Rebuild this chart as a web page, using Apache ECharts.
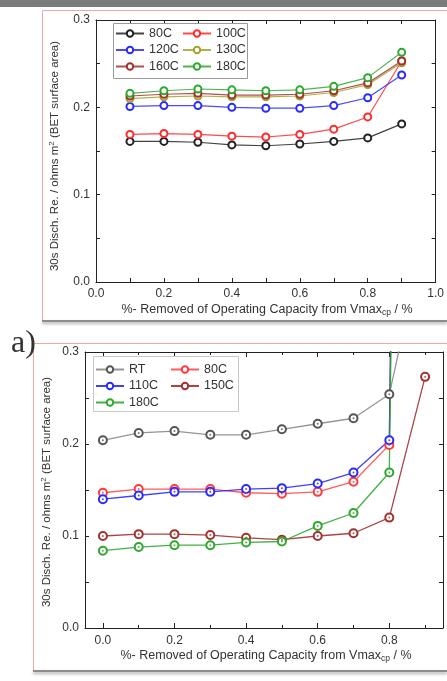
<!DOCTYPE html>
<html>
<head>
<meta charset="utf-8">
<script src="https://cdn.jsdelivr.net/npm/echarts@6/dist/echarts.min.js"></script>
<style>html,body{margin:0;padding:0;background:#fff;}#c{width:447px;height:681px;}</style>
</head>
<body>
<div id="c"></div>
<script>
// ---------- Panel a data ----------
const xA = [0.1, 0.2, 0.3, 0.4, 0.5, 0.6, 0.7, 0.8, 0.9];
const a80  = [0.161, 0.161, 0.160, 0.157, 0.156, 0.158, 0.161, 0.165, 0.181];
const a100 = [0.169, 0.170, 0.169, 0.167, 0.166, 0.169, 0.175, 0.189, 0.253];
const a120 = [0.201, 0.202, 0.202, 0.200, 0.199, 0.199, 0.202, 0.211, 0.237];
const a130 = [0.210, 0.212, 0.213, 0.212, 0.212, 0.213, 0.217, 0.226, 0.251];
const a160 = [0.213, 0.215, 0.216, 0.214, 0.214, 0.215, 0.219, 0.228, 0.253];
const a180 = [0.216, 0.219, 0.221, 0.220, 0.219, 0.220, 0.224, 0.234, 0.263];
const namesA = ['80C', '100C', '120C', '130C', '160C', '180C'];

// ---------- Panel b data ----------
const xB = [0.0, 0.1, 0.2, 0.3, 0.4, 0.5, 0.6, 0.7, 0.8, 0.9];
const bRT  = [0.204, 0.212, 0.214, 0.210, 0.210, 0.216, 0.222, 0.228, 0.254, 0.43];
const b80  = [0.147, 0.151, 0.151, 0.151, 0.147, 0.146, 0.148, 0.159, 0.199, 3.0];
const b110 = [0.140, 0.144, 0.148, 0.148, 0.151, 0.152, 0.157, 0.169, 0.204, 3.2];
const b150 = [0.100, 0.102, 0.102, 0.101, 0.098, 0.096, 0.100, 0.103, 0.120, 0.273];
const b180 = [0.084, 0.088, 0.090, 0.090, 0.093, 0.094, 0.111, 0.125, 0.169, 3.1];
const namesB = ['RT', '80C', '110C', '150C', '180C'];

// ---------- ticks ----------
const yTicks = [0.0, 0.05, 0.1, 0.15, 0.2, 0.25, 0.3];
const yLabels = [0.0, 0.1, 0.2, 0.3];
const xTicksA = [0.0, 0.1, 0.2, 0.3, 0.4, 0.5, 0.6, 0.7, 0.8, 0.9, 1.0];
const xLabelsA = [0.0, 0.2, 0.4, 0.6, 0.8, 1.0];
const xTicksB = [0.0, 0.2, 0.4, 0.6, 0.8];
const xMinorB = [0.1, 0.3, 0.5, 0.7, 0.9];

const FONT = 'Liberation Sans, Arial, sans-serif';
const colA = {'80C':'#222222','100C':'#ff2a2a','120C':'#2a2aff','130C':'#a3a32a','160C':'#a33030','180C':'#2fa82f'};
const colB = {'RT':'#555555','80C':'#ff3a3a','110C':'#2a2aff','150C':'#a33030','180C':'#2fa82f'};
const lineColB = {'RT':'#8a8a8a','80C':'#ff4a4a','110C':'#2a2aff','150C':'#a33030','180C':'#2fa82f'};

const zip = (xs, ys) => xs.map((x, i) => [x, ys[i]]);
const dataA = {'80C':a80,'100C':a100,'120C':a120,'130C':a130,'160C':a160,'180C':a180};
const dataB = {'RT':bRT,'80C':b80,'110C':b110,'150C':b150,'180C':b180};

const axisLineStyle = {show: true, onZero: false, lineStyle: {color: '#222', width: 1}};
const labelStyle = {fontFamily: FONT, fontSize: 12, color: '#333'};
const tick = (vals, len) => ({show: true, inside: true, length: len, customValues: vals, lineStyle: {color: '#222', width: 1}});

function yAxes(grid) {
  return [
    {gridIndex: grid, type: 'value', position: 'left', min: 0, max: 0.3,
     axisLine: axisLineStyle, splitLine: {show: false},
     axisTick: tick(yTicks, 4),
     axisLabel: Object.assign({show: true, margin: 6, customValues: yLabels, formatter: v => (+v).toFixed(1)}, labelStyle)},
    {gridIndex: grid, type: 'value', position: 'right', min: 0, max: 0.3,
     axisLine: axisLineStyle, splitLine: {show: false},
     axisTick: tick(yTicks, 4),
     axisLabel: {show: false}}
  ];
}

const xAxis = [
  // panel a
  {gridIndex: 0, type: 'value', position: 'bottom', min: 0, max: 1,
   axisLine: axisLineStyle, splitLine: {show: false},
   axisTick: tick(xTicksA, 4),
   axisLabel: Object.assign({margin: 6, customValues: xLabelsA, formatter: v => (+v).toFixed(1)}, labelStyle)},
  {gridIndex: 0, type: 'value', position: 'top', min: 0, max: 1,
   axisLine: axisLineStyle, splitLine: {show: false},
   axisTick: tick(xTicksA, 4),
   axisLabel: {show: false}},
  // panel b (major)
  {gridIndex: 1, type: 'value', position: 'bottom', min: -0.05, max: 0.95,
   axisLine: axisLineStyle, splitLine: {show: false},
   axisTick: tick(xTicksB, 5),
   axisLabel: Object.assign({margin: 7, customValues: xTicksB, formatter: v => (+v).toFixed(1)}, labelStyle)},
  {gridIndex: 1, type: 'value', position: 'top', min: -0.05, max: 0.95,
   axisLine: axisLineStyle, splitLine: {show: false},
   axisTick: tick(xTicksB, 5),
   axisLabel: {show: false}},
  // panel b (minor ticks, overlay grid)
  {gridIndex: 2, type: 'value', position: 'bottom', min: -0.05, max: 0.95,
   axisLine: {show: false, onZero: false}, splitLine: {show: false},
   axisTick: tick(xMinorB, 3),
   axisLabel: {show: false}},
  {gridIndex: 2, type: 'value', position: 'top', min: -0.05, max: 0.95,
   axisLine: {show: false, onZero: false}, splitLine: {show: false},
   axisTick: tick(xMinorB, 3),
   axisLabel: {show: false}}
];

const yAxis = [].concat(yAxes(0), yAxes(1), [
  {gridIndex: 2, type: 'value', min: 0, max: 0.3, axisLine: {show: false, onZero: false}, axisTick: {show: false}, axisLabel: {show: false}, splitLine: {show: false}}
]);

const series = [];
namesA.forEach(n => {
  series.push({
    name: 'a' + n, type: 'line', xAxisIndex: 0, yAxisIndex: 0,
    data: zip(xA, dataA[n]), symbol: 'emptyCircle', symbolSize: 7,
    itemStyle: {color: colA[n], borderColor: colA[n], borderWidth: 1.3},
    lineStyle: {color: colA[n], width: 1.2, opacity: 0.85},
    emphasis: {disabled: true}, animation: false
  });
});
namesB.forEach(n => {
  series.push({
    name: 'b' + n, type: 'line', xAxisIndex: 2, yAxisIndex: 2,
    data: zip(xB, dataB[n]), symbol: 'emptyCircle', symbolSize: 8,
    itemStyle: {color: colB[n], borderColor: colB[n], borderWidth: 1.3},
    lineStyle: {color: lineColB[n], width: 1.3, opacity: 0.9},
    emphasis: {disabled: true}, animation: false
  });
  series.push({
    name: 'dot' + n, type: 'scatter', xAxisIndex: 2, yAxisIndex: 2,
    data: zip(xB, dataB[n]), symbol: 'circle', symbolSize: 2,
    itemStyle: {color: colB[n]}, silent: true, animation: false, z: 5
  });
});

const legendBase = {
  orient: 'vertical', itemWidth: 28, itemHeight: 8, itemGap: 3,
  formatter: n => n.slice(1), selectedMode: false,
  textStyle: {fontFamily: FONT, fontSize: 12.5, color: '#333', lineHeight: 13}
};

const legend = [
  Object.assign({}, legendBase, {data: ['a80C', 'a120C', 'a160C'], left: 110, top: 22, itemGap: 3.5}),
  Object.assign({}, legendBase, {data: ['a100C', 'a130C', 'a180C'], left: 177, top: 22, itemGap: 3.5}),
  Object.assign({}, legendBase, {data: ['bRT', 'b110C', 'b180C'], left: 90, top: 358, itemGap: 3.5}),
  Object.assign({}, legendBase, {data: ['b80C', 'b150C'], left: 165, top: 358, itemGap: 3.5})
];

const richTxt = {
  sup: {fontFamily: FONT, fontSize: 8, verticalAlign: 'top', lineHeight: 8, fill: '#333'},
  sub: {fontFamily: FONT, fontSize: 8.5, verticalAlign: 'bottom', lineHeight: 8, fill: '#333'}
};
const yTitle = '30s Disch. Re. / ohms m{sup|2} (BET surface area)';
const xTitle = '%- Removed of Operating Capacity from Vmax{sub|cp} / %';

function txt(x, y, text, size, rot) {
  return {type: 'text', x: x, y: y, rotation: rot || 0, silent: true, z: 50,
    style: {text: text, fill: '#333', font: size + 'px ' + FONT, align: 'center', verticalAlign: 'middle',
            lineHeight: 15, rich: richTxt}};
}

const graphic = [
  {type: 'rect', shape: {x: 0, y: 0, width: 447, height: 7}, style: {fill: '#7b7b7b'}, silent: true},
  // frame a
  {type: 'rect', shape: {x: 42.5, y: 10.5, width: 420, height: 310}, style: {fill: 'none', stroke: '#f0a6a6', lineWidth: 1}, silent: true},
  {type: 'line', shape: {x1: 42, y1: 321, x2: 447, y2: 321}, style: {stroke: '#8c8c8c', lineWidth: 2, shadowBlur: 3, shadowColor: 'rgba(0,0,0,0.35)', shadowOffsetY: 2}, silent: true},
  // frame b
  {type: 'rect', shape: {x: 33.5, y: 343.5, width: 430, height: 327}, style: {fill: 'none', stroke: '#f0a6a6', lineWidth: 1}, silent: true},
  {type: 'line', shape: {x1: 33, y1: 671, x2: 447, y2: 671}, style: {stroke: '#8c8c8c', lineWidth: 2, shadowBlur: 3, shadowColor: 'rgba(0,0,0,0.35)', shadowOffsetY: 2}, silent: true},
  // legend boxes
  {type: 'rect', shape: {x: 113.5, y: 23.5, width: 134, height: 55}, style: {fill: 'none', stroke: '#9a9a9a', lineWidth: 1}, silent: true, z: 40},
  {type: 'rect', shape: {x: 93.5, y: 356.5, width: 145, height: 55}, style: {fill: 'none', stroke: '#c8c8c8', lineWidth: 1}, silent: true, z: 40},
  // axis titles
  txt(55, 156, yTitle, 11.5, Math.PI / 2),
  txt(267, 310, xTitle, 12.5, 0),
  txt(47, 492, yTitle, 11.5, Math.PI / 2),
  txt(266, 656, xTitle, 12.5, 0),
  // panel labels
  {type: 'text', x: 11, y: 328, silent: true, style: {text: 'a)', fill: '#333', font: '32px "Liberation Serif", serif', align: 'left', verticalAlign: 'alphabetic'}},
  {type: 'text', x: 3, y: 685, silent: true, style: {text: 'b)', fill: '#333', font: '32px "Liberation Serif", serif', align: 'left', verticalAlign: 'alphabetic'}}
];

const chart = echarts.init(document.getElementById('c'), null, {renderer: 'canvas'});
chart.setOption({
  animation: false,
  backgroundColor: '#fff',
  grid: [
    {left: 96, top: 20, width: 343, height: 262},
    {left: 85, top: 352, width: 358, height: 276},
    {left: 85, top: 352, width: 358, height: 276}
  ],
  xAxis: xAxis,
  yAxis: yAxis,
  legend: legend,
  series: series,
  graphic: graphic
});
</script>
</body>
</html>
